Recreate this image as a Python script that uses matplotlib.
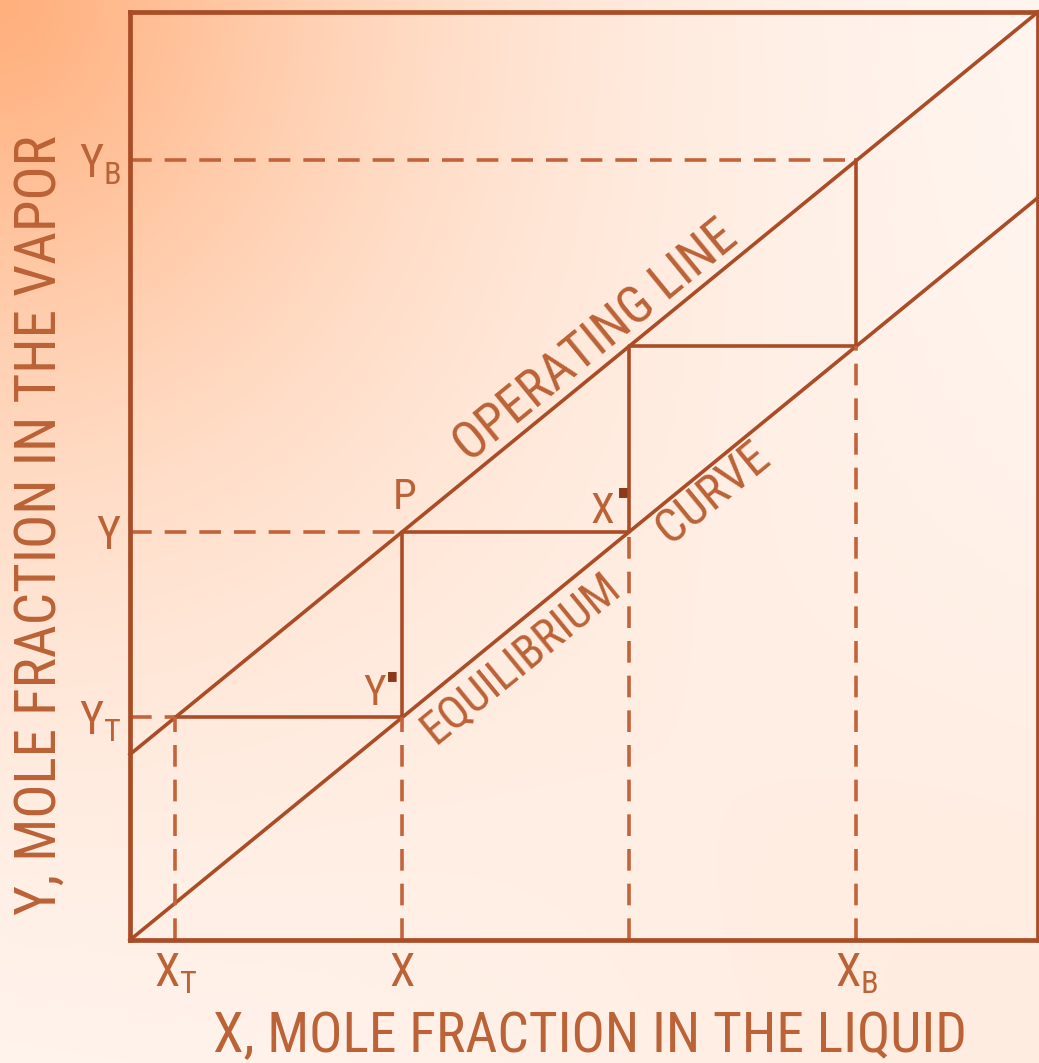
import numpy as np
import matplotlib
matplotlib.use("Agg")
import matplotlib.pyplot as plt

# ---- data -------------------------------------------------------------
# operating line and equilibrium curve (end points)
op_x = [0.0, 1.0]
op_y = [0.20, 1.00]
eq_x = [0.0, 1.0]
eq_y = [0.0, 0.80]

# stage compositions: liquid (x) and vapour (y)
stage_x = [0.05, 0.30, 0.55, 0.80]   # X_T, X, X*, X_B
stage_y = [0.24, 0.44, 0.64, 0.84]   # Y_T, Y, ..., Y_B

x_tick_vals = [stage_x[0], stage_x[1], stage_x[3]]
x_tick_labels = [r"$\mathregular{X_T}$", r"$\mathregular{X}$", r"$\mathregular{X_B}$"]
y_tick_vals = [stage_y[0], stage_y[1], stage_y[3]]
y_tick_labels = [r"$\mathregular{Y_T}$", r"$\mathregular{Y}$", r"$\mathregular{Y_B}$"]

# ---- style ------------------------------------------------------------
LINE = "#aa4c25"
DASH = "#c2633a"
TEXT = "#bb6236"
FONT = ["Liberation Sans Narrow", "Roboto Condensed", "Roboto", "DejaVu Sans"]
plt.rcParams["font.family"] = FONT
plt.rcParams["font.stretch"] = "condensed"

W, H = 1039, 1063
fig = plt.figure(figsize=(W / 100, H / 100), dpi=100)

# warm gradient background
yy, xx = np.mgrid[0:H, 0:W]
d1 = np.hypot(xx * 1.05, yy * 0.92)
t = np.exp(-(d1 / 480.0) ** 1.35)
d2 = np.hypot(W - xx, H - yy)
t = t + 0.16 * np.exp(-(d2 / 600.0) ** 2)
t = np.clip(t, 0, 1)[..., None]
white = np.array([1.0, 0.978, 0.965])
orange = np.array([1.0, 0.69, 0.49])
bg = white * (1 - t) + orange * t
bgax = fig.add_axes([0, 0, 1, 1], zorder=-5)
bgax.imshow(bg, aspect="auto", extent=[0, 1, 0, 1], origin="upper")
bgax.axis("off")

ax = fig.add_axes([130 / W, 1 - 940 / H, 908 / W, 928 / H])
ax.set_facecolor("none")
ax.set_xlim(0, 1)
ax.set_ylim(0, 1)
for s in ax.spines.values():
    s.set_color(LINE)
    s.set_linewidth(3.4)

lw = 2.6
dash = (0, (6.0, 3.6))

# operating line and equilibrium curve
ax.plot(op_x, op_y, color=LINE, lw=lw, clip_on=False)
ax.plot(eq_x, eq_y, color=LINE, lw=lw, clip_on=False)

# stepping off stages between the two lines
steps_x = [stage_x[0], stage_x[1], stage_x[1], stage_x[2], stage_x[2], stage_x[3], stage_x[3]]
steps_y = [stage_y[0], stage_y[0], stage_y[1], stage_y[1], stage_y[2], stage_y[2], stage_y[3]]
ax.plot(steps_x, steps_y, color=LINE, lw=lw)

# dashed projections to the axes
ax.plot([stage_x[0], stage_x[0]], [0, stage_y[0]], color=DASH, lw=lw, ls=dash)
ax.plot([stage_x[1], stage_x[1]], [0, stage_y[0]], color=DASH, lw=lw, ls=dash)
ax.plot([stage_x[2], stage_x[2]], [0, stage_y[1]], color=DASH, lw=lw, ls=dash)
ax.plot([stage_x[3], stage_x[3]], [0, stage_y[2]], color=DASH, lw=lw, ls=dash)
ax.plot([0, stage_x[0]], [stage_y[0], stage_y[0]], color=DASH, lw=lw, ls=dash)
ax.plot([0, stage_x[1]], [stage_y[1], stage_y[1]], color=DASH, lw=lw, ls=dash)
ax.plot([0, stage_x[3]], [stage_y[3], stage_y[3]], color=DASH, lw=lw, ls=dash)

# ticks
ax.set_xticks(x_tick_vals, x_tick_labels)
ax.set_yticks(y_tick_vals, y_tick_labels)
ax.tick_params(length=0, colors=TEXT, labelsize=33)
ax.tick_params(axis="x", pad=8)
ax.tick_params(axis="y", pad=6)

ax.set_xlabel("X, MOLE FRACTION IN THE LIQUID", fontsize=40, color=TEXT)
ax.set_ylabel("Y, MOLE FRACTION IN THE VAPOR", fontsize=41, color=TEXT)
ax.xaxis.set_label_coords(0.5066, -0.076)
ax.yaxis.set_label_coords(-0.069, 0.447)

# labels along the lines
def line_angle(xs, ys):
    p0 = ax.transData.transform((xs[0], ys[0]))
    p1 = ax.transData.transform((xs[1], ys[1]))
    return np.degrees(np.arctan2(p1[1] - p0[1], p1[0] - p0[0]))

def along(xs, ys, xv, text, offset, size):
    ang = line_angle(xs, ys)
    a = np.radians(ang)
    yv = ys[0] + (ys[1] - ys[0]) * (xv - xs[0]) / (xs[1] - xs[0])
    dx, dy = -np.sin(a) * offset, np.cos(a) * offset
    ax.annotate(text, (xv, yv), xytext=(dx, dy), textcoords="offset pixels",
                rotation=ang, rotation_mode="anchor", ha="center", va="center",
                fontsize=size, color=TEXT)

along(op_x, op_y, 0.530, "OPERATING LINE", 24, 37)
along(eq_x, eq_y, 0.410, "EQUILIBRIUM", -29, 33)
along(eq_x, eq_y, 0.626, "CURVE", -23, 35)

# point labels
ax.annotate("P", (stage_x[1], stage_y[1]), xytext=(2, 34), textcoords="offset pixels",
            ha="center", va="center", fontsize=31, color=TEXT)
ax.annotate("Y", (stage_x[1], stage_y[0]), xytext=(-28, 24), textcoords="offset pixels",
            ha="center", va="center", fontsize=31, color=TEXT)
ax.annotate("\u25a0", (stage_x[1], stage_y[0]), xytext=(-10, 42), textcoords="offset pixels",
            ha="center", va="center", fontsize=9, color="#8a3a18", family="DejaVu Sans")
ax.annotate("X", (stage_x[2], stage_y[1]), xytext=(-27, 20), textcoords="offset pixels",
            ha="center", va="center", fontsize=31, color=TEXT)
ax.annotate("\u25a0", (stage_x[2], stage_y[1]), xytext=(-6, 40), textcoords="offset pixels",
            ha="center", va="center", fontsize=9, color="#8a3a18", family="DejaVu Sans")

fig.savefig("out.png", dpi=100)
